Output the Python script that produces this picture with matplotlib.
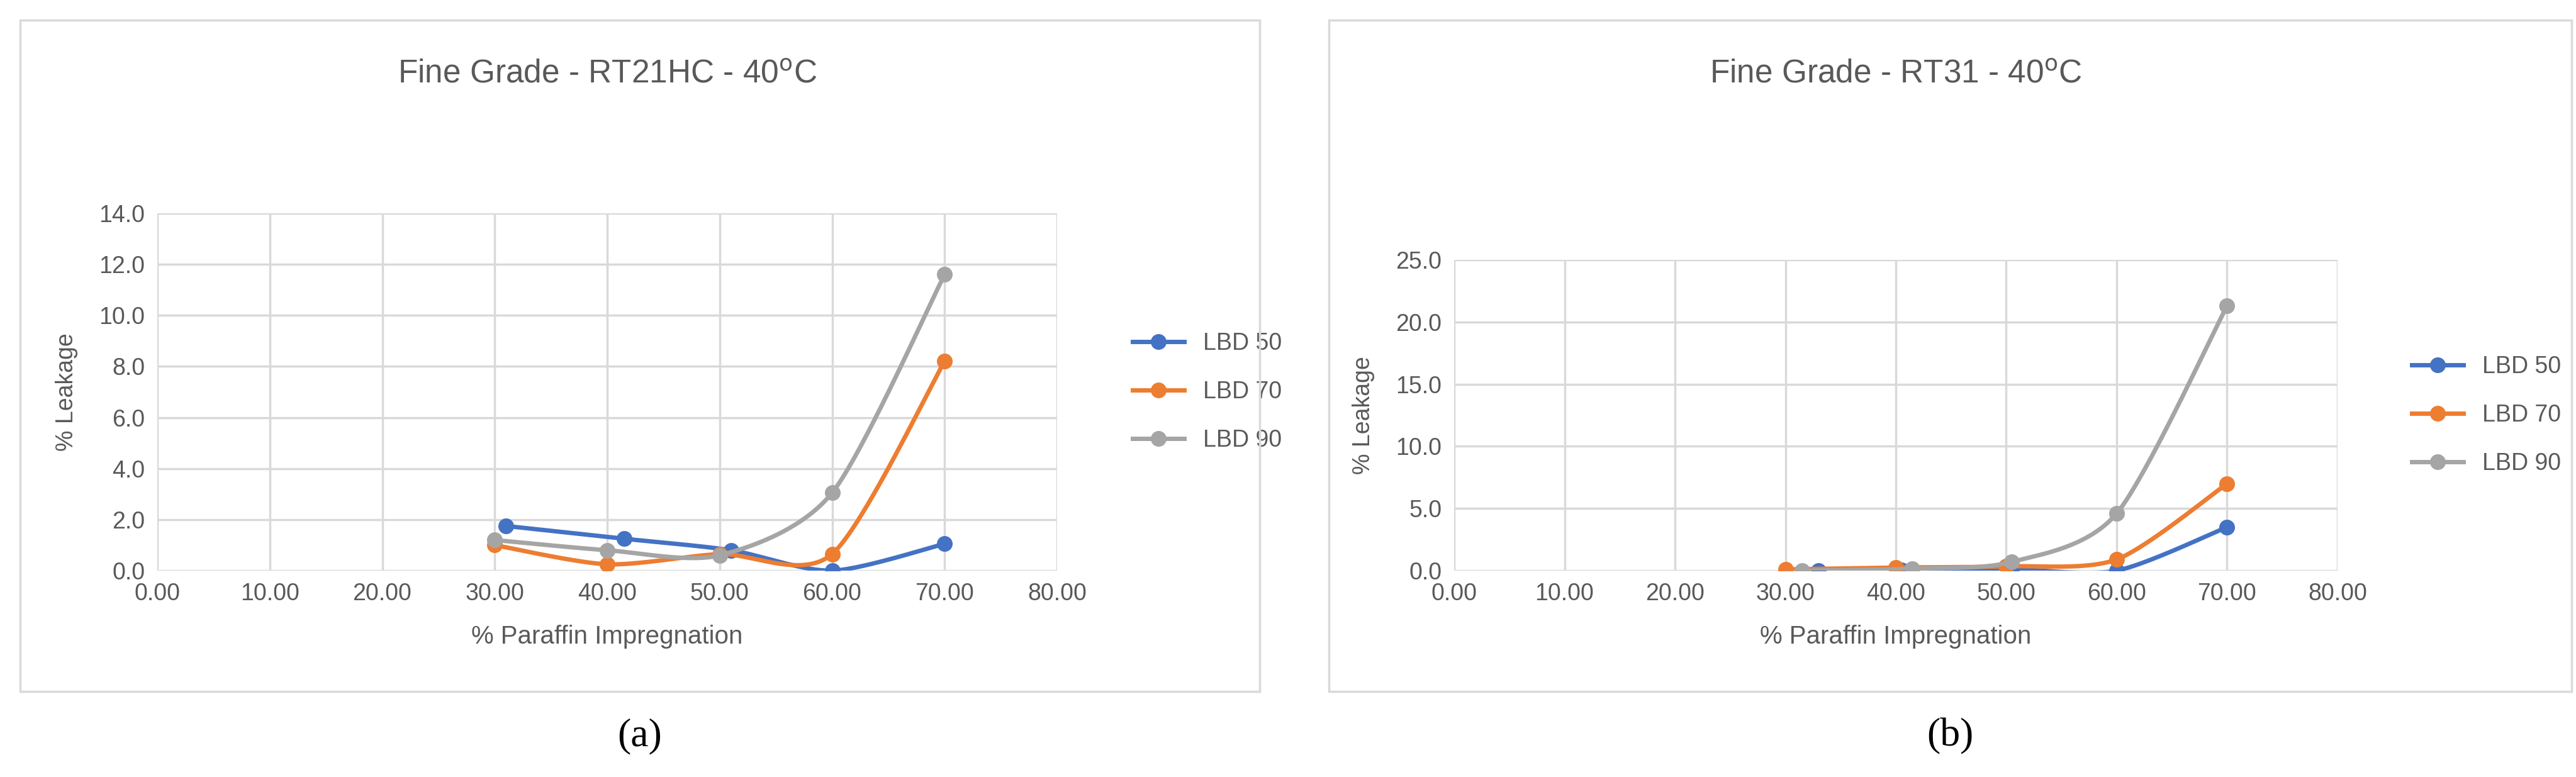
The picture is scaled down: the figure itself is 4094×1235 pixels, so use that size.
import matplotlib
matplotlib.use("Agg")
import matplotlib.pyplot as plt
import numpy as np
from matplotlib.patches import Rectangle

plt.rcParams['font.family'] = ['Liberation Sans', 'DejaVu Sans']

# data
series_names = ['LBD 50', 'LBD 70', 'LBD 90']
colors = ['#4472C4', '#ED7D31', '#A5A5A5']

a_x = [[31, 41.5, 51, 60, 70],
       [30, 40, 50, 60, 70],
       [30, 40, 50, 60, 70]]
a_y = [[1.75, 1.25, 0.8, 0.0, 1.05],
       [1.0, 0.25, 0.65, 0.65, 8.2],
       [1.2, 0.8, 0.6, 3.05, 11.6]]

b_x = [[33, 40.5, 50.5, 60, 70],
       [30, 40, 50, 60, 70],
       [31.5, 41.5, 50.5, 60, 70]]
b_y = [[0.0, 0.05, 0.1, 0.0, 3.5],
       [0.1, 0.25, 0.35, 0.9, 7.0],
       [0.0, 0.15, 0.7, 4.6, 21.3]]

W, H = 4094, 1235


def smooth(x, y, n=40):
    # Catmull-Rom curve through the points, similar to Excel's smoothed line
    x = np.asarray(x, float); y = np.asarray(y, float)
    px = np.concatenate([[x[0]], x, [x[-1]]])
    py = np.concatenate([[y[0]], y, [y[-1]]])
    xs, ys = [], []
    t = np.linspace(0, 1, n)
    for i in range(1, len(px) - 2):
        for p, out in ((px, xs), (py, ys)):
            p0, p1, p2, p3 = p[i - 1], p[i], p[i + 1], p[i + 2]
            m1 = (p2 - p0) / 2 * 0.8
            m2 = (p3 - p1) / 2 * 0.8
            h00 = 2*t**3 - 3*t**2 + 1; h10 = t**3 - 2*t**2 + t
            h01 = -2*t**3 + 3*t**2; h11 = t**3 - t**2
            out.extend(h00*p1 + h10*m1 + h01*p2 + h11*m2)
    return xs, ys


fig = plt.figure(figsize=(W / 100, H / 100), dpi=100)


def panel(x0, box_w, ax_l, ax_w, ax_top, xs, ys, ymax, ystep, title, tag):
    fig.patches.append(Rectangle((x0 / W, 1 - 1099 / H), box_w / W, (1099 - 32) / H,
                                 transform=fig.transFigure, fill=False,
                                 edgecolor='#d9d9d9', linewidth=2.5))
    ax = fig.add_axes([ax_l / W, 1 - 907 / H, ax_w / W, (907 - ax_top) / H])
    for i in range(3):
        sx, sy = smooth(xs[i], ys[i])
        ax.plot(sx, sy, color=colors[i], linewidth=5, solid_capstyle='round')
        ax.plot(xs[i], ys[i], 'o', color=colors[i], markersize=17)
        ax.plot([], [], '-o', color=colors[i], linewidth=5, markersize=17,
                label=series_names[i])
    ax.set_xlim(0, 80)
    ax.set_ylim(0, ymax)
    ax.set_xticks(np.arange(0, 81, 10))
    ax.set_xticklabels(['%.2f' % v for v in np.arange(0, 81, 10)])
    ax.set_yticks(np.arange(0, ymax + 0.01, ystep))
    ax.set_yticklabels(['%.1f' % v for v in np.arange(0, ymax + 0.01, ystep)])
    ax.grid(True, color='#d9d9d9', linewidth=2.5)
    ax.set_axisbelow(True)
    for s in ax.spines.values():
        s.set_visible(False)
    ax.tick_params(length=0, labelsize=27, colors='#595959', pad=14)
    ax.set_xlabel('% Paraffin Impregnation', fontsize=29, color='#595959', labelpad=22)
    ax.set_ylabel('% Leakage', fontsize=27, color='#595959', labelpad=24)
    fig.text((ax_l + ax_w / 2) / W, 1 - 118 / H, title, fontsize=37,
             color='#595959', ha='center', va='center')
    ax.legend(loc='center left', bbox_to_anchor=(1.06, 0.5), frameon=False,
              fontsize=27, labelcolor='#595959', handlelength=2.2,
              labelspacing=1.1)
    fig.text((x0 + box_w / 2) / W, 1 - 1170 / H, tag, fontsize=46,
             family='Liberation Serif', ha='center', va='center')
    return ax


panel(32, 1970, 250, 1430, 339, a_x, a_y, 14.0, 2.0,
      'Fine Grade - RT21HC - 40$^{\\rm o}$C', '(a)')
panel(2112, 1975, 2311, 1404, 413, b_x, b_y, 25.0, 5.0,
      'Fine Grade - RT31 - 40$^{\\rm o}$C', '(b)')

fig.savefig('out.png', dpi=100, facecolor='white')
